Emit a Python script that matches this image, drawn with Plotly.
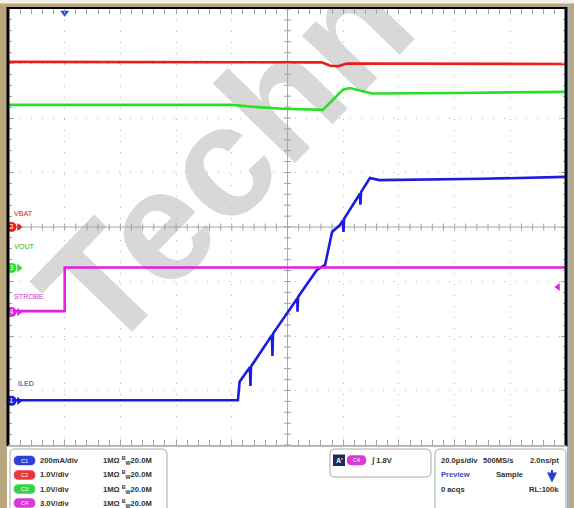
import plotly.graph_objects as go

# ---------------- page geometry ----------------
W, H = 574, 508
ML, MR, MT, MB = 9, 8, 9, 63
PW, PH = W - ML - MR, H - MT - MB


def PX(px):
    return (px - ML) / PW


def PY(py):
    return (H - MB - py) / PH


# ---------------- scope settings ----------------
time_per_div = 20.0          # µs / div
trigger_pos_div = 1.0        # trigger one division from the left edge
n_hdiv, n_vdiv = 10, 8

channels = ["C1", "C2", "C3", "C4"]
ch_numbers = ["1", "2", "3", "4"]
ch_scale = [200, 1.0, 1.0, 3.0]
ch_units = ["mA/div", "V/div", "V/div", "V/div"]
ch_offset = [-3.19, 0.0, -0.75, -1.56]          # ground marker position, divisions
ch_names = ["ILED", "VBAT", "VOUT", "STROBE"]
ch_colors = ["#1c1cdf", "#ec1c1c", "#27e027", "#e41ee4"]
ch_label_colors = ["#2a2ac8", "#d82020", "#22b822", "#d030d0"]
ch_pill_colors = ["#2c3fd6", "#e8383a", "#34d24a", "#d83ad8"]
ch_impedance = ["1MΩ", "1MΩ", "1MΩ", "1MΩ"]
ch_bw = ["20.0M", "20.0M", "20.0M", "20.0M"]
ch_axes = ["y2", "y", "y3", "y4"]

trigger_source = "C4"
trigger_level = "1.8V"
horiz_text = ["20.0µs/div", "500MS/s", "2.0ns/pt"]
acq_text = ["Preview", "Sample", "0 acqs", "RL:100k"]

# ---------------- waveforms (µs, physical units) ----------------
# C1  ILED (mA)
iled_t = [-20, 62.2, 62.8, 66.5, 66.7, 66.9, 74.4, 74.6, 74.8, 83.5, 83.6, 83.8,
          90.6, 93.5, 96.0, 98.9, 99.9, 100.1, 100.3, 106.0, 106.2, 106.4,
          109.6, 113, 150, 180]
iled_ma = [2, 2, 70, 123, 55, 126, 241, 165, 247, 376, 327, 381,
           481, 499, 620, 646, 662, 620, 668, 760, 720, 766,
           818, 810, 815, 822]
# C2  VBAT (V)
vbat_t = [-20, 30, 60, 92.3, 95.3, 98.1, 101.3, 130, 180]
vbat_v = [3.03, 3.03, 3.02, 3.02, 2.96, 2.95, 3.00, 3.00, 2.99]
# C3  VOUT (V)
vout_t = [-20, 30, 60, 66.5, 78.4, 92.7, 96.3, 99.9, 102.4, 106.0, 110.3, 140, 180]
vout_v = [2.99, 2.99, 2.99, 2.96, 2.92, 2.90, 3.08, 3.27, 3.30, 3.26, 3.20, 3.21, 3.23]
# C4  STROBE (V)
strobe_t = [-20, 0, 0, 180]
strobe_v = [0.05, 0.05, 2.45, 2.45]

trace_t = {"C1": iled_t, "C2": vbat_t, "C3": vout_t, "C4": strobe_t}
trace_y = {"C1": iled_ma, "C2": vbat_v, "C3": vout_v, "C4": strobe_v}
draw_order = ["C4", "C3", "C2", "C1"]

# ---------------- derived ranges ----------------
x_range = [-trigger_pos_div * time_per_div, (n_hdiv - trigger_pos_div) * time_per_div]


def ch_range(i):
    return [(-n_vdiv / 2 - ch_offset[i]) * ch_scale[i], (n_vdiv / 2 - ch_offset[i]) * ch_scale[i]]


def t_of_px(px):
    return x_range[0] + (px - ML) / PW * (x_range[1] - x_range[0])


fig = go.Figure()

# ---------------- traces ----------------
for c in draw_order:
    i = channels.index(c)
    fig.add_trace(go.Scatter(
        x=trace_t[c], y=trace_y[c], yaxis=ch_axes[i], mode="lines",
        line=dict(color=ch_colors[i], width=2.6), hoverinfo="skip", showlegend=False))

# center crosshair ticks
x_center = (x_range[0] + x_range[1]) / 2
minor_x = [x_range[0] + k * time_per_div / 5 for k in range(n_hdiv * 5 + 1)]
minor_y = [-n_vdiv / 2 + k * 0.2 for k in range(n_vdiv * 5 + 1)]
fig.add_trace(go.Scatter(x=minor_x, y=[0] * len(minor_x), mode="markers",
                         marker=dict(symbol="line-ns", size=5, line=dict(color="#a0a0a0", width=1)),
                         hoverinfo="skip", showlegend=False))
fig.add_trace(go.Scatter(x=[x_center] * len(minor_y), y=minor_y, mode="markers",
                         marker=dict(symbol="line-ew", size=5, line=dict(color="#a0a0a0", width=1)),
                         hoverinfo="skip", showlegend=False))

# ground markers on the left
for i, c in enumerate(channels):
    fig.add_trace(go.Scatter(x=[t_of_px(19)], y=[0], yaxis=ch_axes[i], mode="markers",
                             marker=dict(symbol="triangle-right", size=7, color=ch_colors[i]),
                             cliponaxis=False, hoverinfo="skip", showlegend=False))
    fig.add_trace(go.Scatter(x=[t_of_px(11.5)], y=[0], yaxis=ch_axes[i], mode="markers+text",
                             marker=dict(symbol="circle", size=10, color=ch_colors[i]),
                             text=[ch_numbers[i]], textposition="middle center",
                             textfont=dict(color="white", size=7, family="Liberation Sans"),
                             cliponaxis=False, hoverinfo="skip", showlegend=False))

# trigger position marker (top) and trigger level marker (right)
fig.add_trace(go.Scatter(x=[0], y=[3.93], mode="markers",
                         marker=dict(symbol="triangle-down", size=8, color="#2050e0"),
                         cliponaxis=False, hoverinfo="skip", showlegend=False))
i4 = channels.index(trigger_source)
fig.add_trace(go.Scatter(x=[t_of_px(558)], y=[1.38], yaxis=ch_axes[i4], mode="markers",
                         marker=dict(symbol="triangle-left", size=7, color=ch_colors[i4]),
                         cliponaxis=False, hoverinfo="skip", showlegend=False))

# ---------------- axes ----------------
tick_col = "#a0a0a0"
fig.update_layout(
    width=W, height=H, autosize=False,
    margin=dict(l=ML, r=MR, t=MT, b=MB),
    paper_bgcolor="#bba77d", plot_bgcolor="white",
    xaxis=dict(range=x_range, showgrid=True, gridcolor="#b8b8b8", griddash="1px,10px",
               dtick=time_per_div, tick0=x_range[0], zeroline=False, showticklabels=False,
               ticks="inside", ticklen=5, tickcolor=tick_col, mirror="allticks", showline=False,
               minor=dict(dtick=time_per_div / 5, ticks="inside", ticklen=3,
                          tickcolor=tick_col, showgrid=False), fixedrange=True),
    yaxis=dict(range=ch_range(1), showgrid=True, gridcolor="#b8b8b8", griddash="1px,10px",
               dtick=ch_scale[1], tick0=0, zeroline=False, showticklabels=False,
               ticks="inside", ticklen=5, tickcolor=tick_col, mirror="allticks", showline=False,
               minor=dict(dtick=ch_scale[1] / 5, ticks="inside", ticklen=3,
                          tickcolor=tick_col, showgrid=False), fixedrange=True),
)
for i, ax in enumerate(ch_axes):
    if ax == "y":
        continue
    fig.update_layout(**{"yaxis" + ax[1:]: dict(range=ch_range(i), overlaying="y", visible=False,
                                                 fixedrange=True)})

shapes = []
# watermark
shapes.append(dict(type="rect", xref="x", yref="y", x0=53.0, x1=54.0, y0=1.45, y1=1.5,
                   line=dict(width=0), layer="below",
                   label=dict(text="<b>Techn</b>", textangle=-46, textposition="middle center",
                              font=dict(size=158, color="#d8d8d8", family="Liberation Sans"))))
# center lines
shapes.append(dict(type="line", xref="x", yref="y", x0=x_center, x1=x_center,
                   y0=-n_vdiv / 2, y1=n_vdiv / 2, line=dict(color="#a8a8a8", width=1), layer="below"))
shapes.append(dict(type="line", xref="x", yref="y", x0=x_range[0], x1=x_range[1],
                   y0=0, y1=0, line=dict(color="#a8a8a8", width=1), layer="below"))


def pline(x0, y0, x1, y1, color, width):
    return dict(type="line", xref="paper", yref="paper", x0=PX(x0), y0=PY(y0), x1=PX(x1), y1=PY(y1),
                line=dict(color=color, width=width))


def prect(x0, y0, x1, y1, fill, line_color=None, lw=0):
    return dict(type="rect", xref="paper", yref="paper", x0=PX(x0), y0=PY(y0), x1=PX(x1), y1=PY(y1),
                fillcolor=fill, line=dict(color=line_color or fill, width=lw))


def prrect(x0, y0, x1, y1, r, fill, line_color, lw):
    rx, ry = r / PW, r / PH
    a0, a1 = PX(x0), PX(x1)
    b0, b1 = PY(y1), PY(y0)   # bottom, top in paper
    p = (f"M{a0 + rx},{b1} L{a1 - rx},{b1} Q{a1},{b1} {a1},{b1 - ry} "
         f"L{a1},{b0 + ry} Q{a1},{b0} {a1 - rx},{b0} L{a0 + rx},{b0} "
         f"Q{a0},{b0} {a0},{b0 + ry} L{a0},{b1 - ry} Q{a0},{b1} {a0 + rx},{b1} Z")
    return dict(type="path", xref="paper", yref="paper", path=p, fillcolor=fill,
                line=dict(color=line_color, width=lw))


# top strip, bottom panel
shapes.append(prect(0, 0, W, 3.5, "#f4f1ea"))
shapes.append(prect(7, 446.5, 567, H + 2, "white"))
# frame
shapes.append(pline(7, 8, 567, 8, "black", 2.2))
shapes.append(pline(8, 7, 8, 446, "black", 3))
shapes.append(pline(566, 7, 566, 446, "black", 3))
shapes.append(pline(8, 445.7, 566, 445.7, "#8fb3d6", 1.6))
shapes.append(pline(568.4, 4, 568.4, H, "#9dbde0", 1))

# panel boxes
shapes.append(prrect(10, 449, 167, H + 8, 5, "white", "#a8a8a8", 1))
shapes.append(prrect(330, 449, 431, 477, 5, "white", "#a8a8a8", 1))
shapes.append(prrect(435, 449, 566, H + 8, 5, "white", "#a8a8a8", 1))

ann = []


def ptext(x, y, text, size=7.6, color="#303030", anchor="left", bold=True):
    ann.append(dict(xref="paper", yref="paper", x=PX(x), y=PY(y), text=(f"<b>{text}</b>" if bold else text),
                    showarrow=False, xanchor=anchor, yanchor="middle",
                    font=dict(size=size, color=color, family="Liberation Sans")))


rows_y = [460.5, 475, 489, 503]
for i, c in enumerate(channels):
    y = rows_y[i]
    shapes.append(prrect(14, y - 4.5, 35, y + 4.5, 4.5, ch_pill_colors[i], ch_pill_colors[i], 0.5))
    ptext(24.5, y, c, size=5.5, color="white", anchor="center", bold=False)
    ptext(38, y, f"{ch_scale[i]}{ch_units[i]}")
    ptext(101, y, f"{ch_impedance[i]} <sup>B</sup><sub>W</sub>{ch_bw[i]}")

# trigger box
shapes.append(prect(333, 454.5, 345, 466, "#1d2b5c"))
ptext(339, 460.5, "A'", size=7, color="white", anchor="center")
shapes.append(prrect(347, 455.5, 366, 465, 4.5, ch_pill_colors[i4], ch_pill_colors[i4], 0.5))
ptext(356.5, 460.3, trigger_source, size=5.5, color="white", anchor="center", bold=False)
ptext(369, 460.5, f"∫ {trigger_level}")

# horizontal / acquisition box
ptext(439, 460.5, horiz_text[0])
ptext(481, 460.5, horiz_text[1])
ptext(561, 460.5, horiz_text[2], anchor="right")
ptext(439, 475, acq_text[0], color="#2f52c4")
ptext(494, 475, acq_text[1])
ptext(439, 489, acq_text[2])
ptext(561, 489, acq_text[3], anchor="right")
ann.append(dict(xref="paper", yref="paper", x=PX(552), y=PY(482.5), ax=0, ay=-14, text="",
                showarrow=True, arrowhead=2, arrowsize=1, arrowwidth=2, arrowcolor="#2a3fd0"))

# channel labels on the screen
label_pos = {"C2": (12, 213), "C3": (12, 246), "C4": (12, 296), "C1": (16, 383)}
for i, c in enumerate(channels):
    x, y = label_pos[c]
    ptext(x, y, ch_names[i], size=7.2, color=ch_label_colors[i], bold=False)

fig.update_layout(shapes=shapes, annotations=ann)
fig.write_html("out.html", config={"displayModeBar": False},
               post_script="document.body.style.margin='0';document.body.style.overflow='hidden';")
